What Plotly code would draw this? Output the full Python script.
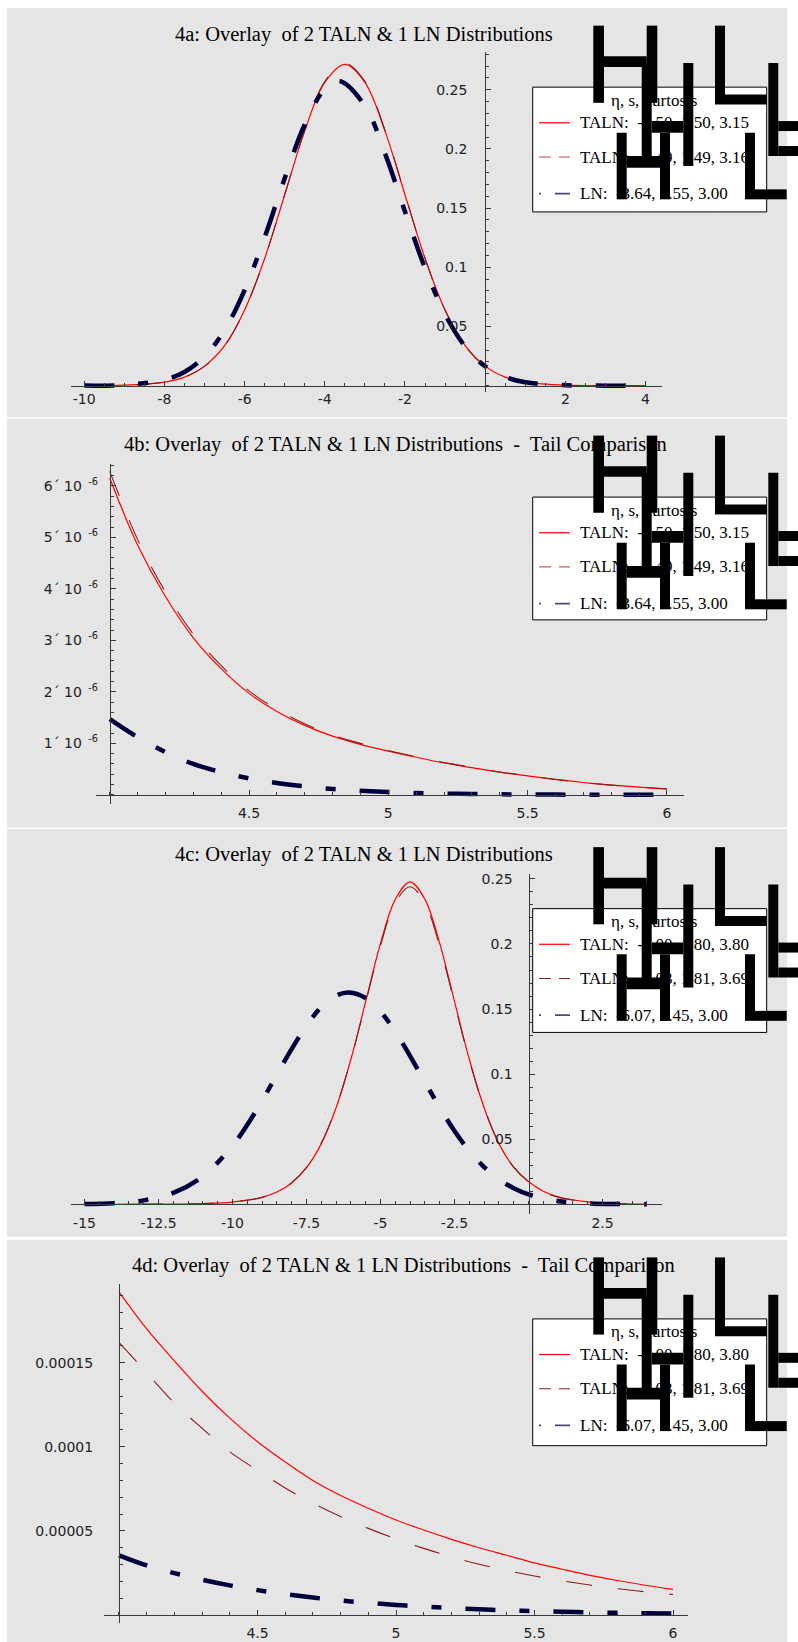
import plotly.graph_objects as go

W, H = 798, 1642

# ---------------- data ----------------
# 4a: full densities
a_x_taln = [-10, -9, -8, -7.5, -7, -6.5, -6, -5.5, -5, -4.5, -4, -3.5, -3, -2.5, -2, -1.5, -1, -0.5, 0, 0.5, 1, 2, 3, 4]
a_taln1 = [4e-5, 4e-4, 0.0030, 0.0072, 0.0165, 0.0338, 0.0639, 0.1075, 0.1613, 0.2153, 0.2562, 0.2714, 0.2562,
           0.2153, 0.1613, 0.1075, 0.0639, 0.0338, 0.0165, 0.0072, 0.0030, 4e-4, 4e-5, 6e-6]
a_taln2 = [4e-5, 4e-4, 0.0029, 0.0071, 0.0163, 0.0336, 0.0637, 0.1074, 0.1614, 0.2158, 0.2570, 0.2724, 0.2572,
           0.2160, 0.1616, 0.1075, 0.0637, 0.0335, 0.0163, 0.0071, 0.0029, 4e-4, 4e-5, 6e-6]
a_x_ln = [-10, -9, -8, -7.5, -7, -6.5, -6, -5.5, -5, -4.5, -4, -3.64, -3, -2.5, -2, -1.5, -1, -0.5, 0, 0.5, 1, 2, 3, 4]
a_ln = [5.7e-5, 6.5e-4, 0.00492, 0.01159, 0.02455, 0.0469, 0.0808, 0.1253, 0.1752, 0.2207, 0.2506, 0.2574, 0.2364,
        0.1964, 0.1471, 0.0993, 0.0604, 0.0331, 0.01635, 0.00727, 0.00291, 3.4e-4, 2.7e-5, 1.4e-6]

# 4b: right tail
b_x = [4.0, 4.1, 4.2, 4.3, 4.4, 4.5, 4.6, 4.7, 4.8, 4.9, 5.0, 5.1, 5.2, 5.3, 5.4, 5.5, 5.6, 5.7, 5.8, 5.9, 6.0]
b_taln1 = [6.15e-6, 4.85e-6, 3.85e-6, 3.05e-6, 2.45e-6, 1.97e-6, 1.62e-6, 1.35e-6, 1.14e-6, 0.98e-6, 0.85e-6,
           0.73e-6, 0.62e-6, 0.53e-6, 0.44e-6, 0.37e-6, 0.30e-6, 0.24e-6, 0.19e-6, 0.15e-6, 0.11e-6]
b_taln2 = [6.28e-6, 4.96e-6, 3.94e-6, 3.12e-6, 2.51e-6, 2.02e-6, 1.66e-6, 1.38e-6, 1.16e-6, 1.00e-6, 0.86e-6,
           0.74e-6, 0.63e-6, 0.535e-6, 0.445e-6, 0.37e-6, 0.30e-6, 0.24e-6, 0.19e-6, 0.15e-6, 0.12e-6]
b_ln = [1.47e-6, 1.12e-6, 0.83e-6, 0.60e-6, 0.44e-6, 0.32e-6, 0.23e-6, 0.165e-6, 0.115e-6, 0.08e-6, 0.055e-6,
        0.037e-6, 0.025e-6, 0.017e-6, 0.011e-6, 0.007e-6, 0.005e-6, 0.003e-6, 0.002e-6, 0.0015e-6, 0.001e-6]

# 4c: full densities
c_x_taln = [-15, -14, -13, -12, -11, -10, -9, -8.5, -8, -7.5, -7, -6.5, -6, -5.5, -5, -4.5, -4, -3.5, -3, -2.5,
            -2, -1.5, -1, -0.5, 0, 0.5, 1, 2, 3, 4]
c_taln1 = [9e-6, 2.4e-5, 6.4e-5, 1.8e-4, 5.4e-4, 0.0017, 0.0053, 0.0094, 0.0164, 0.0281, 0.0466, 0.0742, 0.1114,
           0.1559, 0.2005, 0.2343, 0.2478, 0.2343, 0.2005, 0.1559, 0.1114, 0.0742, 0.0466, 0.0285, 0.0175, 0.0100,
           0.0058, 0.0019, 0.00058, 0.00019]
c_taln2 = [9e-6, 2.3e-5, 6.2e-5, 1.75e-4, 5.3e-4, 0.0017, 0.0053, 0.0095, 0.0166, 0.0284, 0.0470, 0.0745, 0.1112,
           0.1550, 0.1988, 0.2318, 0.2440, 0.2312, 0.1982, 0.1545, 0.1108, 0.0742, 0.0468, 0.0284, 0.0172, 0.0097,
           0.0055, 0.0017, 0.00050, 0.000162]
c_x_ln = [-15, -14, -13, -12, -11, -10, -9.5, -9, -8.5, -8, -7.5, -7, -6.5, -6.07, -5.5, -5, -4.5, -4, -3.5, -3,
          -2.5, -2, -1.5, -1, -0.5, 0, 1, 2, 3, 4]
c_ln = [0.000212, 0.000864, 0.00298, 0.0087, 0.0215, 0.0450, 0.0611, 0.0796, 0.0996, 0.1194, 0.1373, 0.1515,
        0.1603, 0.1628, 0.1585, 0.1480, 0.1326, 0.1139, 0.0939, 0.0743, 0.0563, 0.0410, 0.0286, 0.0191, 0.0123,
        0.00757, 0.00253, 0.00072, 0.000172, 0.000035]

# 4d: right tail
d_x = [4.0, 4.1, 4.2, 4.3, 4.4, 4.5, 4.6, 4.7, 4.8, 4.9, 5.0, 5.1, 5.2, 5.3, 5.4, 5.5, 5.6, 5.7, 5.8, 5.9, 6.0]
d_taln1 = [1.92e-4, 1.70e-4, 1.51e-4, 1.33e-4, 1.17e-4, 1.03e-4, 0.91e-4, 0.80e-4, 0.71e-4, 0.635e-4, 0.565e-4,
           0.505e-4, 0.45e-4, 0.40e-4, 0.355e-4, 0.31e-4, 0.272e-4, 0.236e-4, 0.205e-4, 0.177e-4, 0.152e-4]
d_taln2 = [1.62e-4, 1.44e-4, 1.26e-4, 1.11e-4, 0.97e-4, 0.86e-4, 0.755e-4, 0.665e-4, 0.585e-4, 0.515e-4, 0.452e-4,
           0.396e-4, 0.346e-4, 0.302e-4, 0.264e-4, 0.232e-4, 0.203e-4, 0.178e-4, 0.156e-4, 0.138e-4, 0.122e-4]
d_ln = [0.355e-4, 0.295e-4, 0.249e-4, 0.21e-4, 0.176e-4, 0.148e-4, 0.124e-4, 0.1035e-4, 0.0865e-4, 0.072e-4,
        0.06e-4, 0.05e-4, 0.0413e-4, 0.034e-4, 0.0283e-4, 0.0234e-4, 0.0194e-4, 0.016e-4, 0.013e-4, 0.0107e-4,
        0.0087e-4]

# tick values / labels
a_xticks = [-10, -8, -6, -4, -2, 2, 4]
a_xtext = ["-10", "-8", "-6", "-4", "-2", "2", "4"]
ac_yticks = [0.05, 0.1, 0.15, 0.2, 0.25]
ac_ytext = ["0.05", "0.1", "0.15", "0.2", "0.25"]
c_xticks = [-15, -12.5, -10, -7.5, -5, -2.5, 2.5]
c_xtext = ["-15", "-12.5", "-10", "-7.5", "-5", "-2.5", "2.5"]
bd_xticks = [4.5, 5, 5.5, 6]
bd_xtext = ["4.5", "5", "5.5", "6"]
b_yticks = [1e-6, 2e-6, 3e-6, 4e-6, 5e-6, 6e-6]
b_ytext = ["1´ 10<sup>  -6</sup>", "2´ 10<sup>  -6</sup>", "3´ 10<sup>  -6</sup>", "4´ 10<sup>  -6</sup>",
           "5´ 10<sup>  -6</sup>", "6´ 10<sup>  -6</sup>"]
d_yticks = [0.00005, 0.0001, 0.00015]
d_ytext = ["0.00005", "0.0001", "0.00015"]

NB = "\u00a0"
titles = [
    f"4a: Overlay{NB} of 2 TALN & 1 LN Distributions",
    f"4b: Overlay{NB} of 2 TALN & 1 LN Distributions {NB}-{NB} Tail Comparison",
    f"4c: Overlay{NB} of 2 TALN & 1 LN Distributions",
    f"4d: Overlay{NB} of 2 TALN & 1 LN Distributions {NB}-{NB} Tail Comparison",
]
legend_header = "η, s, kurtosis"
ab_legend = [f"TALN:{NB} -3.50, 1.50, 3.15", f"TALN:{NB} -3.49, 1.49, 3.16", f"LN:{NB} -3.64, 1.55, 3.00"]
cd_legend = [f"TALN:{NB} -4.00, 1.80, 3.80", f"TALN:{NB} -4.03, 1.81, 3.69", f"LN:{NB} -6.07, 2.45, 3.00"]

# ---------------- styling ----------------
RED = "#ff0000"
DRED = "#8b1c1c"
NAVY = "#00003c"
GRAY_BG = "#e5e5e5"
AXC = "#3a3a3a"
SERIF = "Liberation Serif, Times New Roman, serif"
SANS = "DejaVu Sans, sans-serif"


def fx(p):
    return p / W


def fy(p):
    return 1 - p / H


panels = [
    dict(xr=[-10.33, 4.4], xpx=[71, 661.6], yr=[-0.0056, 0.282], ypx=[390, 49], ox=0,
         xt=a_xticks, xtt=a_xtext, yt=ac_yticks, ytt=ac_ytext, xminor=0.5, yminor=0.01, xstand=1, ystand=15,
         series=[(a_x_taln, a_taln1), (a_x_taln, a_taln2), (a_x_ln, a_ln)],
         bg=[5, 415], box_top=84.3, box_h=125, title_xy=(363.7, 31.5), legend=ab_legend, ldash="#c04848"),
    dict(xr=[3.95, 6.06], xpx=[95.8, 683.6], yr=[-0.17e-6, 6.43e-6], ypx=[802.1, 461.5], ox=4,
         xt=bd_xticks, xtt=bd_xtext, yt=b_yticks, ytt=b_ytext, xminor=0.1, yminor=0.2e-6, xstand=5, ystand=9,
         series=[(b_x, b_taln1), (b_x, b_taln2), (b_x, b_ln)],
         bg=[416.5, 826], box_top=495, box_h=123, title_xy=(395, 442), legend=ab_legend, ldash="#c06060"),
    dict(xr=[-15.45, 4.5], xpx=[71.2, 661.7], yr=[-0.0077, 0.254], ypx=[1213.5, 872.3], ox=0,
         xt=c_xticks, xtt=c_xtext, yt=ac_yticks, ytt=ac_ytext, xminor=0.5, yminor=0.01, xstand=6, ystand=13,
         series=[(c_x_taln, c_taln1), (c_x_taln, c_taln2), (c_x_ln, c_ln)],
         bg=[827.5, 1236], box_top=907.3, box_h=124, title_xy=(363.7, 853.5), legend=cd_legend, ldash="#8b1c1c"),
    dict(xr=[3.947, 6.054], xpx=[104.3, 688], yr=[-0.05e-4, 1.967e-4], ypx=[1623.4, 1283.4], ox=4,
         xt=bd_xticks, xtt=bd_xtext, yt=d_yticks, ytt=d_ytext, xminor=0.1, yminor=1e-5, xstand=5, ystand=23,
         series=[(d_x, d_taln1), (d_x, d_taln2), (d_x, d_ln)],
         bg=[1239, 1642], box_top=1318.3, box_h=127, title_xy=(403.7, 1265), legend=cd_legend, ldash="#8b1c1c"),
]

line_styles = [
    dict(color=RED, width=1.2, dash="solid", shape="spline"),
    dict(color=DRED, width=1.1, dash="26px,26px", shape="spline"),
    dict(color=NAVY, width=4.5, dash="30px,24px,10px,24px", shape="spline"),
]

# glyph rectangles (relative to legend box left/top): big "H"/"L" bracket glyphs
glyph_rects = [
    # H1
    (60.6, 71.3, -61.6, 15.7), (114, 124.6, -61.6, 15.7), (71.3, 114, -31, -20.3),
    # H2
    (109, 119, -24.3, 79), (150.6, 160.6, -24.3, 79), (119, 150.6, 34, 45.7),
    # H3
    (84, 94, 45.7, 112.4), (127.3, 137.3, 45.7, 112.4), (94, 127.3, 69, 80.7),
    # L1
    (182.3, 192.3, -61.6, 17.4), (192.3, 234, 7.4, 17.4),
    # L2
    (235.6, 245.6, -24.3, 69), (245.6, 266, 34, 44), (245.6, 266, 59, 69),
    # L3
    (212.3, 222.3, 45.7, 112.4), (222.3, 254, 102.4, 112.4),
]

fig = go.Figure()
shapes = []
annotations = []
layout = {}
BOX_L, BOX_R = 532.7, 766.7

for i, p in enumerate(panels, start=1):
    sx = "" if i == 1 else str(i)
    xr, yr = p["xr"], p["yr"]
    x0p, x1p = p["xpx"]
    yb, yt_ = p["ypx"]
    # pixel position of the axis crossing
    y0_px = yb - (0 - yr[0]) / (yr[1] - yr[0]) * (yb - yt_)
    ox_px = x0p + (p["ox"] - xr[0]) / (xr[1] - xr[0]) * (x1p - x0p)

    common = dict(showgrid=False, zeroline=False, showline=True, linecolor=AXC, linewidth=1,
                  ticks="inside", ticklen=5, tickwidth=1, tickcolor=AXC, tickmode="array",
                  tickfont=dict(family=SANS, size=14, color="#222"), anchor="free", fixedrange=True)
    layout["xaxis" + sx] = dict(common, domain=[fx(x0p), fx(x1p)], range=xr, position=fy(y0_px),
                                tickvals=p["xt"], ticktext=p["xtt"], ticklabelstandoff=p["xstand"],
                                minor=dict(ticks="inside", ticklen=3, tickcolor=AXC, dtick=p["xminor"],
                                           tick0=p["ox"], showgrid=False))
    layout["yaxis" + sx] = dict(common, domain=[fy(yb), fy(yt_)], range=yr, position=fx(ox_px),
                                tickvals=p["yt"], ticktext=p["ytt"], ticklabelstandoff=p["ystand"],
                                minor=dict(ticks="inside", ticklen=3, tickcolor=AXC, dtick=p["yminor"],
                                           tick0=0, showgrid=False))

    for (xs, ys), st, name in zip(p["series"], line_styles, p["legend"]):
        fig.add_trace(go.Scatter(x=xs, y=ys, mode="lines", name=name, showlegend=False,
                                 line=dict(color=st["color"], width=st["width"], dash=st["dash"],
                                           shape=st["shape"], smoothing=1.0),
                                 xaxis="x" + sx, yaxis="y" + sx))

    # panel background
    shapes.append(dict(type="rect", xref="paper", yref="paper", x0=fx(7), x1=fx(787),
                       y0=fy(p["bg"][1]), y1=fy(p["bg"][0]), fillcolor=GRAY_BG, line=dict(width=0),
                       layer="below"))
    # title
    tx, ty = p["title_xy"]
    annotations.append(dict(text=titles[i - 1], x=fx(tx), y=fy(ty), xref="paper", yref="paper",
                            xanchor="center", yanchor="middle", showarrow=False,
                            font=dict(family=SERIF, size=20.5, color="black")))

    # legend box
    top = p["box_top"]
    shapes.append(dict(type="rect", xref="paper", yref="paper", x0=fx(BOX_L), x1=fx(BOX_R),
                       y0=fy(top + p["box_h"]), y1=fy(top), fillcolor="white",
                       line=dict(color="black", width=1), layer="above"))
    annotations.append(dict(text=legend_header, x=fx(BOX_L + 121), y=fy(top + 13), xref="paper", yref="paper",
                            xanchor="center", yanchor="middle", showarrow=False,
                            font=dict(family=SERIF, size=17, color="black")))
    row_y = [35.7, 70, 106.7]
    samp = [
        dict(color=RED, width=1.2, dash="solid"),
        dict(color=p["ldash"], width=1.2, dash="12px,8px"),
        dict(color="#4a4a7a", width=1.6, dash="2px,14px,16px,4px"),
    ]
    for ry, txt, sl in zip(row_y, p["legend"], samp):
        shapes.append(dict(type="line", xref="paper", yref="paper", x0=fx(BOX_L + 6.3), x1=fx(BOX_L + 37.3),
                           y0=fy(top + ry), y1=fy(top + ry), line=sl, layer="above"))
        annotations.append(dict(text=txt, x=fx(BOX_L + 45.6), y=fy(top + ry), xref="paper", yref="paper",
                                xanchor="left", yanchor="middle", showarrow=False,
                                font=dict(family=SERIF, size=17, color="black")))
    # big bracket glyphs
    for gx0, gx1, gy0, gy1 in glyph_rects:
        shapes.append(dict(type="rect", xref="paper", yref="paper",
                           x0=fx(BOX_L + gx0), x1=fx(min(BOX_L + gx1, W)),
                           y0=fy(top + gy1), y1=fy(top + gy0), fillcolor="black",
                           line=dict(width=0), layer="above"))

fig.update_layout(width=W, height=H, margin=dict(l=0, r=0, t=0, b=0), paper_bgcolor="white",
                  plot_bgcolor="rgba(0,0,0,0)", showlegend=False, shapes=shapes, annotations=annotations,
                  **layout)

fig.write_html("out.html", config={"displayModeBar": False},
               post_script="document.body.style.margin='0px';document.body.style.padding='0px';")
